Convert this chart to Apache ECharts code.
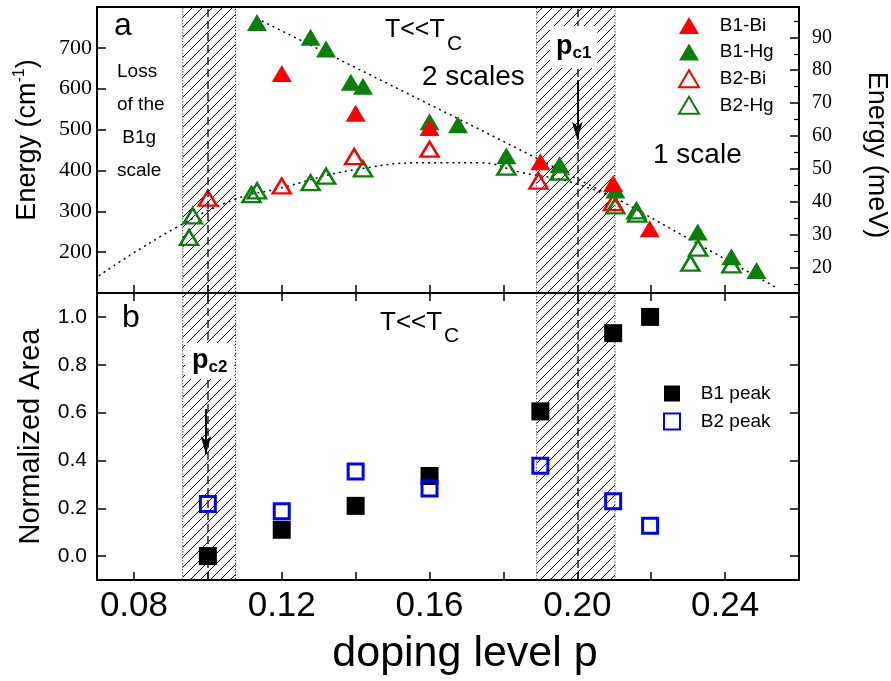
<!DOCTYPE html>
<html>
<head>
<meta charset="utf-8">
<script src="https://cdn.jsdelivr.net/npm/echarts@6/dist/echarts.min.js"></script>
<style>
  html, body { margin: 0; padding: 0; background: #fff; }
  #chart { width: 891px; height: 681px; }
</style>
</head>
<body>
<div id="chart"></div>
<script>
// panel a: energy of the two scales (cm-1)
const b1BiP = [0.12, 0.14, 0.16, 0.19, 0.2097, 0.2196];
const b1BiE = [637, 540, 505, 421, 368, 257];
const b1HgP = [0.1133, 0.1278, 0.132, 0.1387, 0.142, 0.16, 0.1677, 0.1808, 0.1952, 0.2103, 0.2326, 0.2417, 0.2485];
const b1HgE = [762, 726, 697, 616, 606, 519, 512, 436, 414, 352, 249, 189, 155];
const b2BiP = [0.10, 0.12, 0.1396, 0.16, 0.1895, 0.2097];
const b2BiE = [332, 362, 434, 452, 374, 321];
const b2HgP = [0.0949, 0.0959, 0.1118, 0.1133, 0.1278, 0.132, 0.142, 0.1808, 0.1952, 0.2103, 0.216, 0.2162, 0.2327, 0.2306, 0.2417];
const b2HgE = [236, 289, 341, 350, 370, 386, 404, 408, 396, 313, 301, 293, 210, 173, 169];

// dotted guide curves
const guideHiP = [0.1146, 0.1732, 0.2119, 0.2543];
const guideHiE = [766, 502, 325, 111];
const guideLoP = [0.0705, 0.0908, 0.1076, 0.1184, 0.14, 0.1624, 0.1732, 0.1849, 0.1984, 0.2119];
const guideLoE = [142, 257, 330, 354, 402, 419, 419, 395, 371, 325];

// panel b: normalized area
const peakP = [0.10, 0.12, 0.14, 0.16, 0.19, 0.2097, 0.2197];
const b1Peak = [0.00, 0.11, 0.21, 0.335, 0.605, 0.932, 1.00];
const b2Peak = [0.218, 0.187, 0.354, 0.283, 0.378, 0.229, 0.127];

// critical dopings and shaded ranges
const pcLines = [0.10, 0.20];
const hatchA = [0.0932, 0.1075];
const hatchB = [0.189, 0.2102];
const pc1Arrow = [0.20, 621, 475];
const pc2Arrow = [0.0995, 0.615, 0.427];

// ticks
const xTicks = [0.08, 0.10, 0.12, 0.14, 0.16, 0.18, 0.20, 0.22, 0.24];
const xLabels = [0.08, 0.12, 0.16, 0.20, 0.24];
const energyTicks = [200, 300, 400, 500, 600, 700];
const mevTicks = [20, 30, 40, 50, 60, 70, 80, 90];
const mevMinor = [15, 25, 35, 45, 55, 65, 75, 85, 95];
const areaTicks = [0, 0.2, 0.4, 0.6, 0.8, 1.0];

const CM_PER_MEV = 8.0655;
const E_MIN = 100, E_MAX = 800;

const sans = 'Liberation Sans, Arial, sans-serif';
const serif = 'Liberation Serif, Times New Roman, serif';
const RED = '#ff0000';
const GREEN = '#0a800a';
const BLUE = '#0000ff';

function zip(xs, ys) {
  return xs.map((x, i) => [x, ys[i]]);
}

function hatchPattern() {
  const c = document.createElement('canvas');
  c.width = 10;
  c.height = 10;
  const g = c.getContext('2d');
  g.strokeStyle = '#000';
  g.lineWidth = 1;
  g.beginPath();
  g.moveTo(-1, 11);
  g.lineTo(11, -1);
  g.stroke();
  return c;
}
const hatch = { image: hatchPattern(), repeat: 'repeat' };

function hatchAreas() {
  return [hatchA, hatchB].map(r => [{ xAxis: r[0] }, { xAxis: r[1] }]);
}

function pcMarkLines(arrow) {
  const data = pcLines.map(p => ({ xAxis: p, lineStyle: { type: [8, 4], width: 1.5, color: '#222' } }));
  const ls = { type: 'solid', width: 2, color: '#000' };
  data.push([
    { coord: [arrow[0], arrow[1]], symbol: 'none', lineStyle: ls },
    { coord: [arrow[0], arrow[2]], symbol: 'arrow', symbolSize: [8, 18], lineStyle: ls }
  ]);
  return data;
}

const frame = { show: true, onZero: false, lineStyle: { color: '#000', width: 2 } };
const tickLine = { width: 1.5, color: '#000' };
const legendGap = '   ';

const chart = echarts.init(document.getElementById('chart'));

chart.setOption({
  animation: false,
  backgroundColor: '#fff',
  grid: [
    { left: 97, right: 92, top: 7, height: 286, outerBoundsMode: 'none' },
    { left: 97, right: 92, top: 293, height: 287, outerBoundsMode: 'none' },
    { left: 97, right: 92, top: 7, height: 286, outerBoundsMode: 'none' } // only for the minor meV ticks
  ],
  legend: [
    {
      data: [
        { name: 'B1-Bi', icon: 'triangle' },
        { name: 'B1-Hg', icon: 'triangle' },
        { name: 'B2-Bi', icon: 'triangle' },
        { name: 'B2-Hg', icon: 'triangle' }
      ],
      orient: 'vertical',
      left: 678,
      top: 16,
      padding: 0,
      itemWidth: 20,
      itemHeight: 17,
      itemGap: 7.6,
      formatter: n => legendGap + n,
      textStyle: { fontFamily: sans, fontSize: 19, color: '#000', lineHeight: 17 }
    },
    {
      data: [
        { name: 'B1 peak', icon: 'rect' },
        { name: 'B2 peak', icon: 'rect' }
      ],
      orient: 'vertical',
      left: 663,
      top: 384,
      padding: 0,
      itemWidth: 16,
      itemHeight: 16,
      itemGap: 9,
      formatter: n => legendGap + n,
      textStyle: { fontFamily: sans, fontSize: 19, color: '#000', lineHeight: 16 }
    }
  ],
  xAxis: [
    {
      type: 'value', gridIndex: 0, position: 'bottom', min: 0.07, max: 0.26,
      axisLine: frame,
      axisTick: { inside: true, length: 8, customValues: xTicks, lineStyle: tickLine },
      axisLabel: { show: false },
      splitLine: { show: false }
    },
    {
      type: 'value', gridIndex: 0, position: 'top', min: 0.07, max: 0.26,
      axisLine: frame, axisTick: { show: false }, axisLabel: { show: false }, splitLine: { show: false }
    },
    {
      type: 'value', gridIndex: 1, position: 'bottom', min: 0.07, max: 0.26,
      name: 'doping level p', nameLocation: 'middle', nameGap: 53,
      nameTextStyle: { fontFamily: sans, fontSize: 43, color: '#000', padding: [0, 0, 0, 34] },
      axisLine: frame,
      axisTick: { inside: true, length: 8, customValues: xTicks, lineStyle: tickLine },
      axisLabel: {
        customValues: xLabels, margin: 9, fontFamily: sans, fontSize: 35, color: '#000',
        formatter: v => v.toFixed(2)
      },
      splitLine: { show: false }
    },
    {
      type: 'value', gridIndex: 1, position: 'top', min: 0.07, max: 0.26,
      axisLine: frame,
      axisTick: { inside: true, length: 8, customValues: xTicks, lineStyle: tickLine },
      axisLabel: { show: false },
      splitLine: { show: false }
    },
    {
      type: 'value', gridIndex: 2, show: false, min: 0.07, max: 0.26
    }
  ],
  yAxis: [
    {
      type: 'value', gridIndex: 0, position: 'left', min: E_MIN, max: E_MAX,
      name: '{a|Energy (cm}{b|-1}{a|)}', nameLocation: 'middle', nameGap: 53,
      nameTextStyle: {
        fontFamily: sans, fontSize: 27, color: '#000', padding: [0, 0, 0, 20],
        rich: {
          a: { fontFamily: sans, fontSize: 27, lineHeight: 32, color: '#000' },
          b: { fontFamily: sans, fontSize: 16, lineHeight: 12, verticalAlign: 'top', color: '#000' }
        }
      },
      axisLine: frame,
      axisTick: { inside: true, length: 9, customValues: energyTicks, lineStyle: tickLine },
      axisLabel: { customValues: energyTicks, margin: 5, fontFamily: serif, fontSize: 22, color: '#000' },
      splitLine: { show: false }
    },
    {
      type: 'value', gridIndex: 0, position: 'right',
      min: E_MIN / CM_PER_MEV, max: E_MAX / CM_PER_MEV,
      name: 'Energy (meV)', nameLocation: 'middle', nameGap: 64, nameRotate: -90,
      nameTextStyle: { fontFamily: sans, fontSize: 27, color: '#000', padding: [0, 0, 0, 10] },
      axisLine: frame,
      axisTick: { inside: true, length: 9, customValues: mevTicks, lineStyle: tickLine },
      axisLabel: { customValues: mevTicks, margin: 13, fontFamily: serif, fontSize: 20, color: '#000' },
      splitLine: { show: false }
    },
    {
      type: 'value', gridIndex: 2, position: 'right',
      min: E_MIN / CM_PER_MEV, max: E_MAX / CM_PER_MEV,
      axisLine: { show: false },
      axisTick: { inside: true, length: 5, customValues: mevMinor, lineStyle: { width: 1.2, color: '#000' } },
      axisLabel: { show: false },
      splitLine: { show: false }
    },
    {
      type: 'value', gridIndex: 1, position: 'left', min: -0.1, max: 1.1,
      name: 'Normalized Area', nameLocation: 'middle', nameGap: 52,
      nameTextStyle: { fontFamily: sans, fontSize: 29, color: '#000' },
      axisLine: frame,
      axisTick: { inside: true, length: 9, customValues: areaTicks, lineStyle: tickLine },
      axisLabel: {
        customValues: areaTicks, margin: 10, fontFamily: sans, fontSize: 21, color: '#000',
        formatter: v => v.toFixed(1)
      },
      splitLine: { show: false }
    },
    {
      type: 'value', gridIndex: 1, position: 'right', min: -0.1, max: 1.1,
      axisLine: frame,
      axisTick: { inside: true, length: 9, customValues: areaTicks, lineStyle: tickLine },
      axisLabel: { show: false },
      splitLine: { show: false }
    }
  ],
  series: [
    // hatched ranges, p_c lines and arrows (top)
    {
      name: 'hatchTop', type: 'line', xAxisIndex: 0, yAxisIndex: 0, data: [], z: 1, silent: true,
      markArea: {
        silent: true,
        itemStyle: { color: hatch, opacity: 1, borderColor: '#000', borderWidth: 1, borderType: [1, 2] },
        data: hatchAreas()
      },
      markLine: { silent: true, symbol: 'none', label: { show: false }, data: pcMarkLines(pc1Arrow) }
    },
    {
      name: 'hatchBottom', type: 'line', xAxisIndex: 2, yAxisIndex: 3, data: [], z: 1, silent: true,
      markArea: {
        silent: true,
        itemStyle: { color: hatch, opacity: 1, borderColor: '#000', borderWidth: 1, borderType: [1, 2] },
        data: hatchAreas()
      },
      markLine: { silent: true, symbol: 'none', label: { show: false }, data: pcMarkLines(pc2Arrow) }
    },
    {
      name: 'guideHi', type: 'line', xAxisIndex: 0, yAxisIndex: 0, z: 2, silent: true,
      data: zip(guideHiP, guideHiE), showSymbol: false, symbol: 'none',
      lineStyle: { type: [2, 4], width: 1.5, color: '#000' }
    },
    {
      name: 'guideLo', type: 'line', xAxisIndex: 0, yAxisIndex: 0, z: 2, silent: true, smooth: 0.5,
      data: zip(guideLoP, guideLoE), showSymbol: false, symbol: 'none',
      lineStyle: { type: [2, 4], width: 1.5, color: '#000' }
    },
    {
      name: 'B2-Hg', type: 'scatter', xAxisIndex: 0, yAxisIndex: 0, z: 4,
      symbol: 'triangle', symbolSize: [18, 15], data: zip(b2HgP, b2HgE),
      itemStyle: { color: 'rgba(255,255,255,0)', borderColor: GREEN, borderWidth: 2.5, opacity: 1 }
    },
    {
      name: 'B2-Bi', type: 'scatter', xAxisIndex: 0, yAxisIndex: 0, z: 4,
      symbol: 'triangle', symbolSize: [18, 15], data: zip(b2BiP, b2BiE),
      itemStyle: { color: 'rgba(255,255,255,0)', borderColor: RED, borderWidth: 2.5, opacity: 1 }
    },
    {
      name: 'B1-Hg', type: 'scatter', xAxisIndex: 0, yAxisIndex: 0, z: 5,
      symbol: 'triangle', symbolSize: [20, 17], data: zip(b1HgP, b1HgE),
      itemStyle: { color: GREEN, opacity: 1 }
    },
    {
      name: 'B1-Bi', type: 'scatter', xAxisIndex: 0, yAxisIndex: 0, z: 6,
      symbol: 'triangle', symbolSize: [20, 17], data: zip(b1BiP, b1BiE),
      itemStyle: { color: RED, opacity: 1 }
    },
    {
      name: 'B1 peak', type: 'scatter', xAxisIndex: 2, yAxisIndex: 3, z: 5,
      symbol: 'rect', symbolSize: 18, data: zip(peakP, b1Peak),
      itemStyle: { color: '#000', opacity: 1 }
    },
    {
      name: 'B2 peak', type: 'scatter', xAxisIndex: 2, yAxisIndex: 3, z: 6,
      symbol: 'rect', symbolSize: 15, data: zip(peakP, b2Peak),
      itemStyle: { color: 'rgba(255,255,255,0)', borderColor: BLUE, borderWidth: 3, opacity: 1 }
    }
  ],
  graphic: [
    { type: 'text', z: 100, left: 114, top: 10, style: { text: 'a', font: '32px ' + sans, fill: '#000' } },
    { type: 'text', z: 100, left: 122, top: 302, style: { text: 'b', font: '32px ' + sans, fill: '#000' } },
    { type: 'text', z: 100, left: 385, top: 18, style: { text: 'T<<T', font: '25px ' + sans, fill: '#000' } },
    { type: 'text', z: 100, left: 447, top: 34, style: { text: 'C', font: '21px ' + sans, fill: '#000' } },
    { type: 'text', z: 100, left: 380, top: 310, style: { text: 'T<<T', font: '26px ' + sans, fill: '#000' } },
    { type: 'text', z: 100, left: 444, top: 326, style: { text: 'C', font: '21px ' + sans, fill: '#000' } },
    { type: 'text', z: 100, left: 422, top: 63, style: { text: '2 scales', font: '28px ' + sans, fill: '#000' } },
    { type: 'text', z: 100, left: 653, top: 141, style: { text: '1 scale', font: '28px ' + sans, fill: '#000' } },
    {
      type: 'text', z: 100, left: 117, top: 55,
      style: { text: 'Loss\nof the\n B1g\nscale', font: '19px ' + sans, lineHeight: 33, fill: '#000' }
    },
    {
      type: 'text', z: 100, left: 550, top: 26,
      style: {
        text: '{p|p}{c|c1}', backgroundColor: '#fff', padding: [6, 6, 6, 6],
        rich: {
          p: { font: 'bold 27px ' + sans, fill: '#000', lineHeight: 30 },
          c: { font: 'bold 17px ' + sans, fill: '#000', lineHeight: 10, verticalAlign: 'bottom' }
        }
      }
    },
    {
      type: 'text', z: 100, left: 185, top: 343,
      style: {
        text: '{p|p}{c|c2}', backgroundColor: '#fff', padding: [3, 7, 3, 7],
        rich: {
          p: { font: 'bold 27px ' + sans, fill: '#000', lineHeight: 30 },
          c: { font: 'bold 17px ' + sans, fill: '#000', lineHeight: 10, verticalAlign: 'bottom' }
        }
      }
    }
  ]
});
</script>
</body>
</html>
